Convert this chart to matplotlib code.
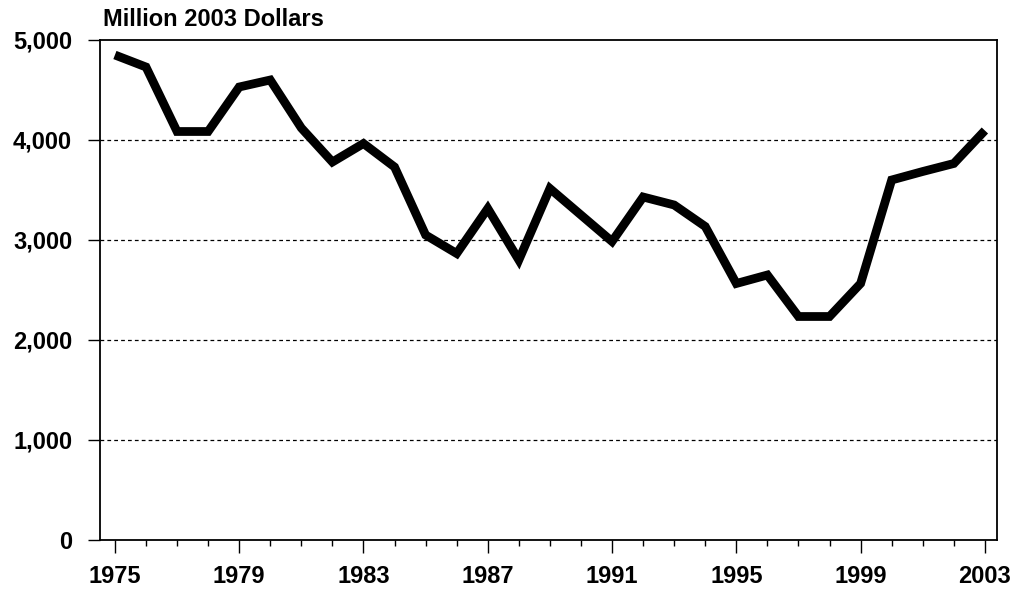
import matplotlib
matplotlib.use("Agg")
import matplotlib.pyplot as plt
from matplotlib.ticker import MultipleLocator, FuncFormatter

# Values (million 2003 dollars)
years = list(range(1975, 2004))
values = [4850, 4730, 4085, 4085, 4530, 4600, 4120, 3780, 3965, 3730,
          3050, 2865, 3315, 2800, 3515, 3250, 2985, 3430, 3350, 3135,
          2565, 2650, 2235, 2235, 2565, 3600, 3685, 3765, 4095]

year_ticks = [1975, 1979, 1983, 1987, 1991, 1995, 1999, 2003]
value_ticks = [0, 1000, 2000, 3000, 4000, 5000]
grid_levels = [1000, 2000, 3000, 4000]

plt.rcParams["font.family"] = ["Liberation Sans", "DejaVu Sans"]
plt.rcParams["font.weight"] = "bold"

fig = plt.figure(figsize=(10.11, 5.90), dpi=100)
ax = fig.add_axes([100 / 1011, 50 / 590, 897 / 1011, 500 / 590])

for lvl in grid_levels:
    ax.axhline(lvl, color="black", linestyle=(0, (3, 2.5)), linewidth=0.9, zorder=1)

ax.plot(years, values, color="black", linewidth=6.3, solid_joinstyle="miter",
        solid_capstyle="butt", zorder=3)

ax.set_xlim(1974.52, 2003.39)
ax.set_ylim(0, 5000)
ax.set_xticks(year_ticks)
ax.xaxis.set_minor_locator(MultipleLocator(1))
ax.set_yticks(value_ticks)
ax.yaxis.set_major_formatter(FuncFormatter(lambda v, p: f"{int(v):,}"))

ax.tick_params(axis="x", which="major", direction="out", length=9, width=1,
               pad=9, labelsize=17)
ax.tick_params(axis="x", which="minor", direction="out", length=4, width=1)
ax.tick_params(axis="y", which="major", direction="out", length=9, width=1,
               pad=11, labelsize=17)
for lab in ax.get_xticklabels() + ax.get_yticklabels():
    lab.set_fontweight("bold")

for s in ax.spines.values():
    s.set_linewidth(1.3)
    s.set_color("black")

fig.text(103 / 1011, 1 - 20 / 590, "Million 2003 Dollars", fontsize=17,
         fontweight="bold", ha="left", va="center")

fig.savefig("out.png", dpi=100)
